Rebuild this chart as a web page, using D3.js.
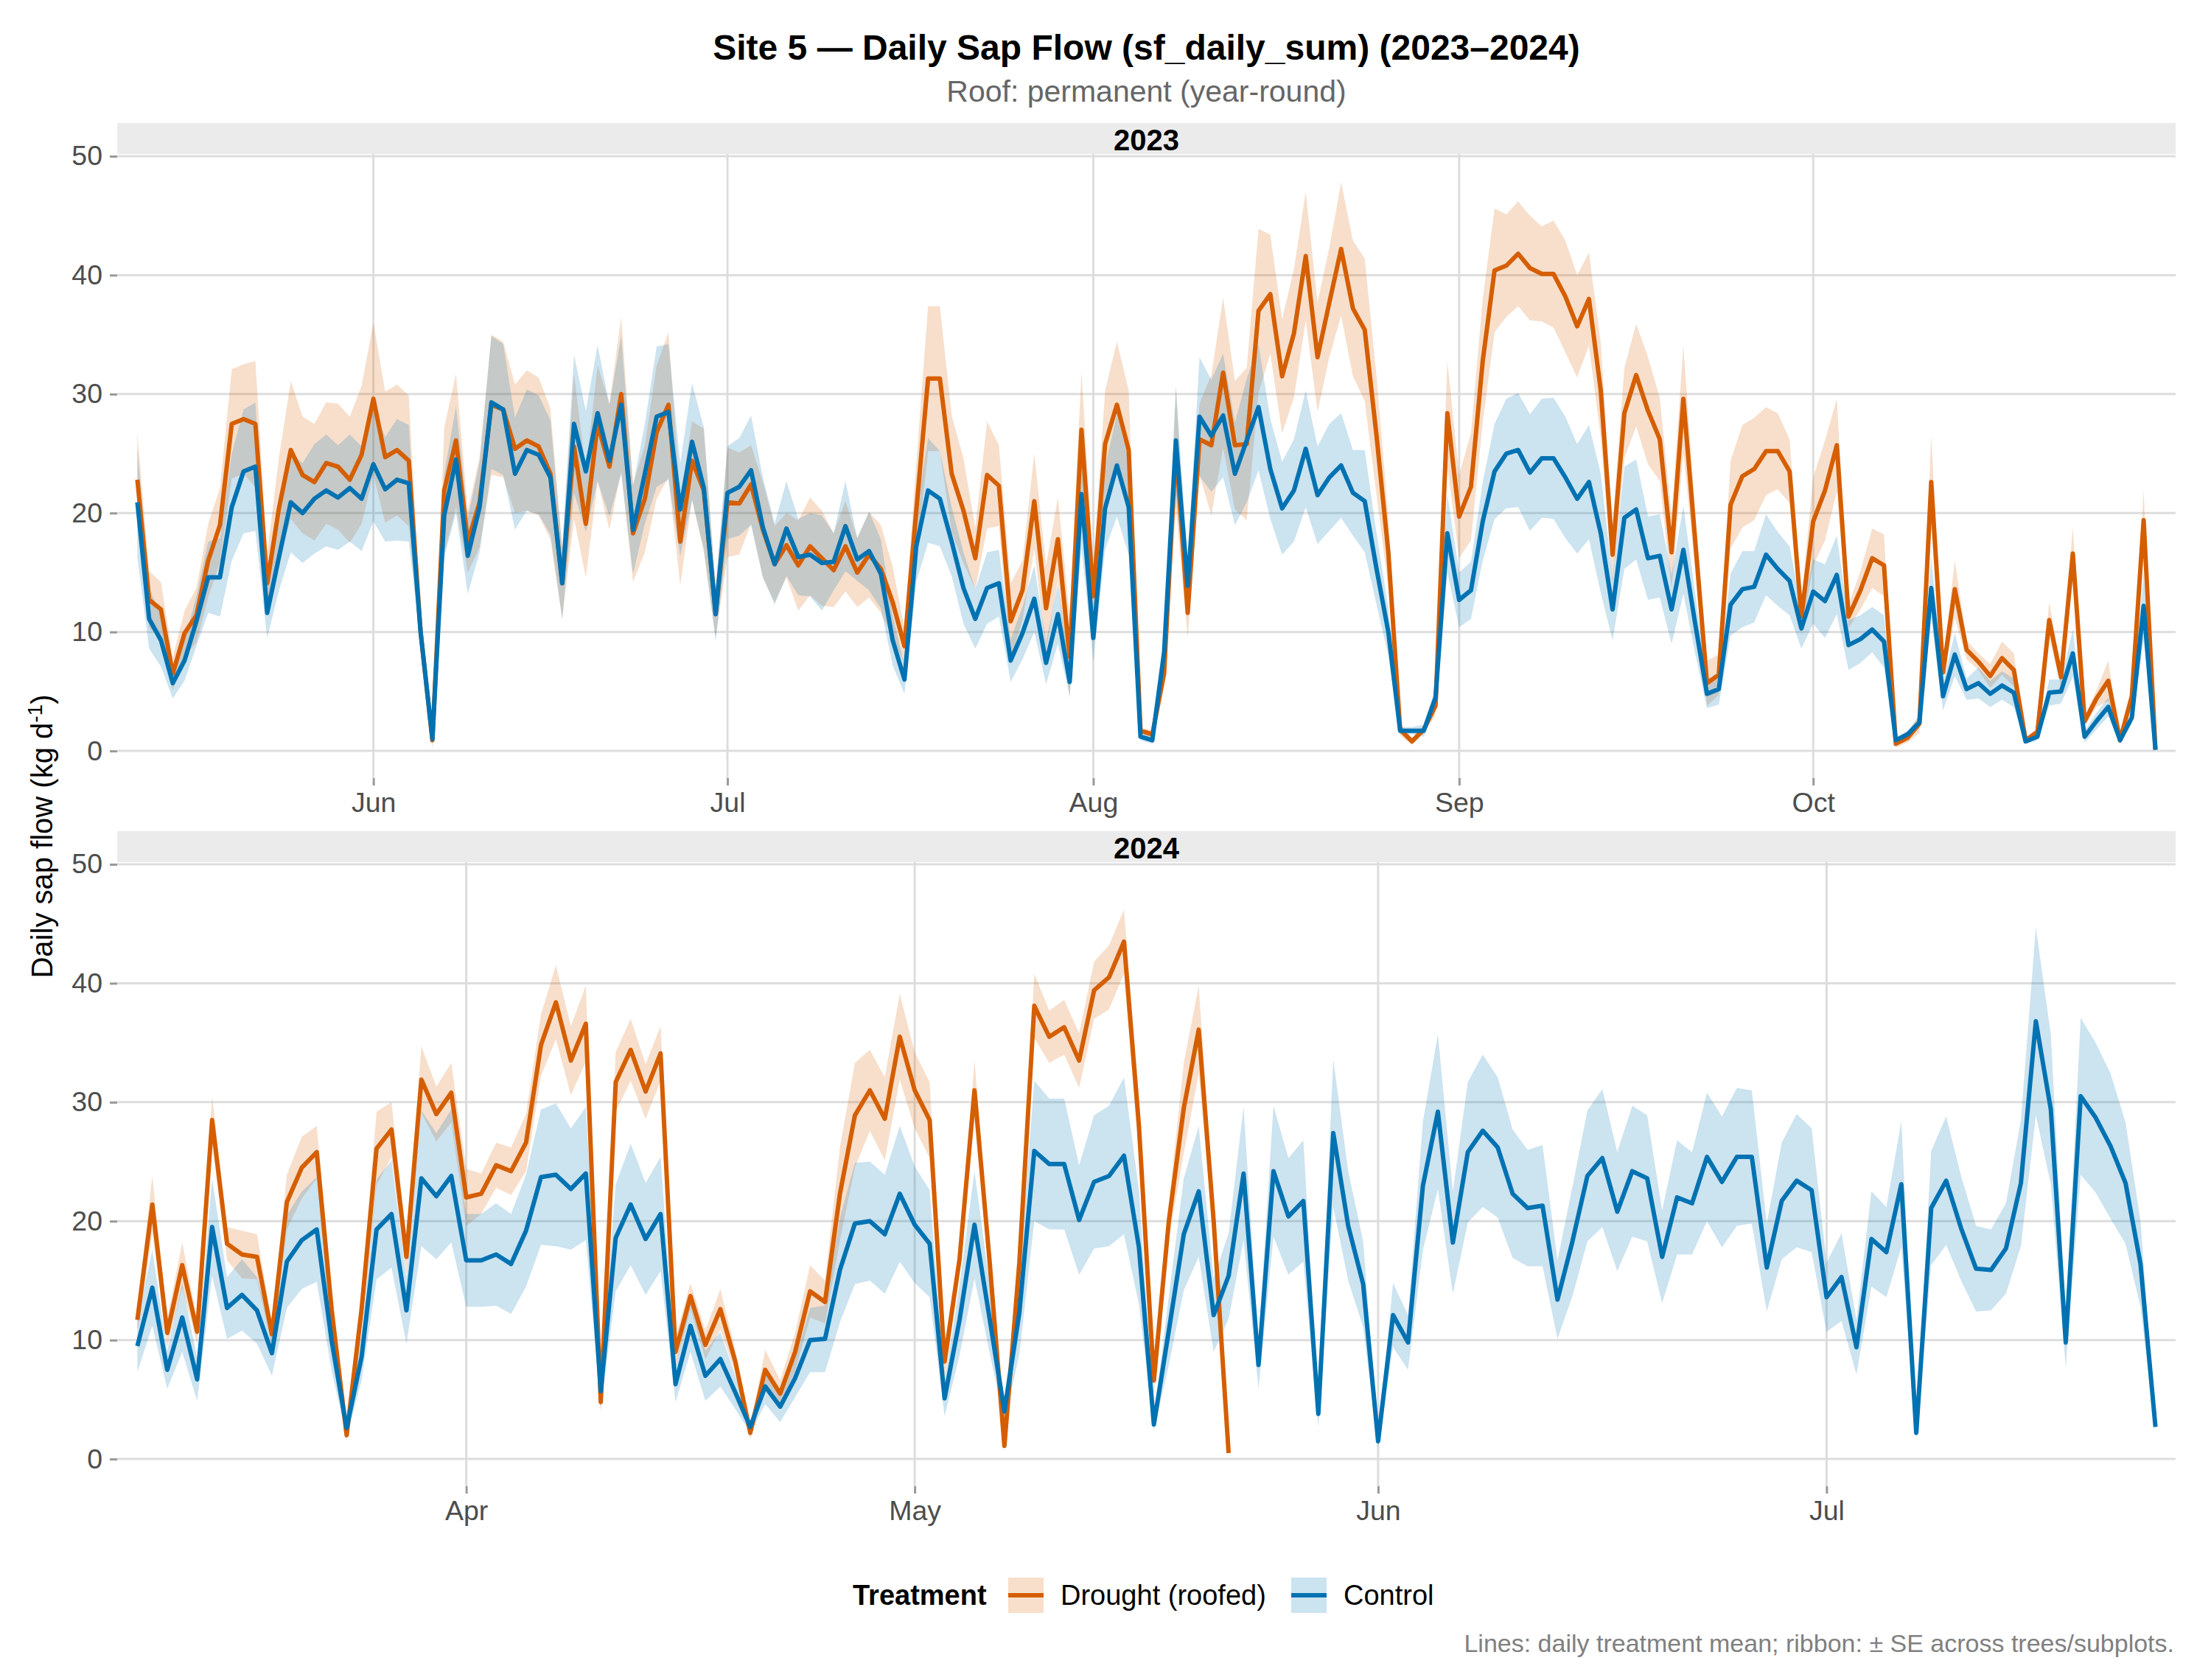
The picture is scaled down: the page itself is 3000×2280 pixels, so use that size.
<!DOCTYPE html>
<meta charset="utf-8">
<style>
    body { margin: 0; background: #fff; }
    svg { font-family: "Liberation Sans", Arial, Helvetica, sans-serif; }
</style>
<body>
<script src="https://d3js.org/d3.v7.min.js"></script>
<script>
// ---------- data (daily treatment mean and SE, kg d-1) ----------
let years = ["2023", "2024"];
let startDates = ["2023-05-12", "2024-03-10"];
let treatments = ["Drought (roofed)", "Control"];

let drought2023 = [
    22.8, 12.7, 11.9, 6.5, 9.9, 11.4, 16.0, 19.0, 27.5, 27.9,
    27.5, 14.1, 20.4, 25.3, 23.2, 22.6, 24.2, 23.9, 22.8, 24.9,
    29.6, 24.7, 25.3, 24.4, 10.0, 0.9, 21.9, 26.1, 17.6, 20.9,
    29.1, 28.7, 25.4, 26.1, 25.6, 23.3, 14.1, 25.6, 19.1, 27.5,
    23.9, 30.0, 18.3, 21.2, 26.8, 29.1, 17.6, 24.4, 21.9, 11.6,
    20.9, 20.8, 22.4, 18.6, 15.7, 17.3, 15.6, 17.2, 16.2, 15.2,
    17.2, 15.0, 16.5, 15.3, 12.5, 8.8, 20.2, 31.3, 31.3, 23.3,
    20.2, 16.2, 23.2, 22.3, 10.9, 13.5, 21.0, 12.0, 17.8, 7.9,
    27.0, 13.0, 25.8, 29.1, 25.3, 1.7, 1.4, 6.5, 25.5, 11.6,
    26.2, 25.7, 31.8, 25.7, 25.8, 37.0, 38.4, 31.5, 35.1, 41.6,
    33.1, 37.7, 42.2, 37.2, 35.4, 26.5, 16.7, 1.8, 0.8, 1.8,
    3.8, 28.4, 19.7, 22.2, 32.8, 40.4, 40.8, 41.8, 40.6, 40.1,
    40.1, 38.2, 35.7, 38.0, 30.3, 16.5, 28.4, 31.6, 28.6, 26.2,
    16.7, 29.6, 17.7, 5.7, 6.4, 20.7, 23.1, 23.7, 25.2, 25.2,
    23.5, 11.3, 19.3, 21.9, 25.7, 11.3, 13.5, 16.2, 15.6, 0.6,
    1.1, 2.3, 22.6, 6.6, 13.6, 8.5, 7.5, 6.3, 7.8, 6.8,
    0.9, 1.6, 11.0, 6.2, 16.6, 2.5, 4.4, 5.9, 0.9, 4.6,
    19.4, 0.1
];
let droughtSE2023 = [
    3.9, 2.4, 2.3, 1.4, 1.9, 2.3, 3.1, 3.1, 4.6, 4.6,
    5.3, 2.5, 4.3, 5.8, 4.9, 4.9, 5.1, 5.3, 5.3, 5.8,
    6.4, 5.5, 5.5, 5.5, 1.0, 0.7, 5.3, 5.6, 2.6, 3.8,
    5.9, 5.7, 5.4, 5.9, 5.8, 5.5, 3.0, 6.1, 4.5, 4.9,
    5.3, 6.5, 4.1, 4.5, 5.6, 6.1, 3.7, 3.3, 5.2, 2.0,
    4.6, 4.3, 3.3, 4.0, 3.2, 2.7, 3.8, 4.1, 4.0, 3.1,
    3.8, 2.9, 3.6, 3.7, 3.0, 1.5, 4.0, 6.1, 6.1, 4.9,
    4.4, 2.6, 4.5, 3.4, 3.2, 2.5, 4.0, 3.6, 3.5, 3.5,
    4.9, 2.5, 4.5, 5.3, 5.0, 0.3, 0.3, 1.0, 5.0, 2.1,
    3.0, 5.9, 6.3, 5.4, 6.4, 6.9, 5.0, 4.8, 5.4, 5.4,
    4.6, 4.6, 5.6, 5.7, 6.0, 5.0, 3.0, 0.5, 0.3, 0.3,
    0.8, 4.4, 3.5, 4.5, 5.2, 5.2, 4.3, 4.4, 4.4, 4.0,
    4.5, 4.7, 4.3, 3.9, 4.0, 2.5, 3.8, 4.3, 4.5, 3.5,
    3.1, 4.5, 2.5, 1.9, 1.7, 3.7, 4.3, 4.3, 3.7, 3.2,
    2.7, 1.5, 3.7, 4.2, 3.9, 1.0, 1.6, 2.5, 2.6, 0.3,
    0.4, 0.8, 3.9, 0.8, 2.4, 0.8, 0.7, 1.0, 1.4, 1.4,
    0.2, 0.3, 1.5, 0.8, 2.2, 0.4, 0.7, 1.7, 0.2, 0.5,
    2.5, 0.0
];
let control2023 = [
    20.9, 11.1, 9.3, 5.7, 7.6, 10.9, 14.6, 14.6, 20.5, 23.5,
    23.9, 11.6, 16.3, 20.9, 20.0, 21.2, 21.9, 21.3, 22.1, 21.2,
    24.1, 22.0, 22.8, 22.5, 10.0, 1.0, 19.8, 24.5, 16.4, 20.5,
    29.3, 28.7, 23.3, 25.3, 24.9, 23.0, 14.1, 27.5, 23.5, 28.4,
    24.4, 29.1, 18.6, 23.3, 28.1, 28.5, 20.3, 26.0, 22.1, 11.5,
    21.7, 22.2, 23.6, 18.8, 15.7, 18.7, 16.3, 16.5, 15.8, 15.9,
    18.9, 16.1, 16.8, 14.9, 9.3, 6.0, 17.2, 21.9, 21.2, 17.6,
    13.7, 11.1, 13.7, 14.1, 7.6, 9.9, 12.8, 7.4, 11.5, 5.8,
    21.6, 9.5, 20.4, 24.0, 20.5, 1.2, 0.9, 8.3, 26.1, 13.9,
    28.1, 26.5, 28.2, 23.3, 26.1, 28.9, 23.7, 20.4, 21.9, 25.4,
    21.5, 23.0, 24.0, 21.7, 21.0, 15.3, 10.0, 1.7, 1.7, 1.7,
    4.5, 18.3, 12.7, 13.5, 19.3, 23.5, 25.0, 25.3, 23.4, 24.6,
    24.6, 23.0, 21.2, 22.6, 18.3, 11.9, 19.6, 20.3, 16.2, 16.4,
    11.9, 16.9, 10.7, 4.8, 5.2, 12.3, 13.6, 13.8, 16.5, 15.3,
    14.3, 10.3, 13.4, 12.6, 14.8, 8.9, 9.4, 10.2, 9.2, 0.9,
    1.4, 2.4, 13.7, 4.6, 8.1, 5.2, 5.7, 4.8, 5.5, 4.9,
    0.8, 1.2, 4.9, 5.0, 8.2, 1.2, 2.5, 3.7, 0.9, 2.8,
    12.2, 0.1
];
let controlSE2023 = [
    4.6, 2.5, 2.2, 1.3, 1.7, 2.1, 3.0, 3.3, 4.5, 5.2,
    5.4, 2.1, 2.8, 4.2, 4.2, 4.6, 4.7, 4.4, 4.5, 4.4,
    4.8, 4.4, 5.1, 4.9, 1.0, 0.5, 3.5, 4.5, 3.2, 3.8,
    5.6, 5.5, 4.7, 5.1, 5.0, 4.8, 3.0, 5.8, 5.1, 5.7,
    4.7, 5.8, 3.7, 4.2, 5.9, 5.7, 3.9, 4.9, 5.1, 2.3,
    3.9, 4.1, 4.6, 4.2, 3.4, 4.0, 3.2, 3.5, 4.0, 2.4,
    3.8, 1.8, 3.3, 2.9, 2.1, 1.2, 3.0, 4.4, 4.0, 2.9,
    3.0, 2.5, 3.0, 2.8, 1.8, 2.2, 2.8, 1.8, 2.5, 1.2,
    4.5, 2.0, 3.5, 4.3, 4.0, 0.3, 0.3, 1.5, 4.6, 2.0,
    5.0, 4.7, 5.2, 4.3, 5.2, 5.3, 4.2, 3.9, 4.3, 4.9,
    4.1, 4.5, 4.4, 3.6, 4.3, 3.0, 2.0, 0.3, 0.3, 0.5,
    0.8, 3.3, 2.3, 2.4, 3.3, 4.0, 4.6, 4.8, 4.9, 5.0,
    5.1, 5.1, 4.6, 4.8, 5.0, 2.6, 4.3, 4.2, 3.5, 3.5,
    2.9, 3.7, 2.5, 1.2, 1.3, 2.6, 3.2, 3.0, 3.4, 3.1,
    2.9, 1.7, 2.7, 3.1, 3.3, 2.1, 2.0, 1.9, 2.2, 0.2,
    0.3, 0.5, 2.6, 1.2, 1.8, 0.9, 1.3, 1.1, 1.2, 1.2,
    0.2, 0.3, 1.1, 1.0, 2.0, 0.5, 0.7, 0.8, 0.3, 0.5,
    2.9, 0.0
];

let drought2024 = [
    11.7, 21.4, 10.6, 16.3, 10.7, 28.5, 18.1, 17.2, 17.0, 10.5,
    21.6, 24.5, 25.8, 12.5, 2.0, 12.6, 26.1, 27.7, 17.0, 31.9,
    29.0, 30.8, 22.0, 22.3, 24.7, 24.2, 26.6, 34.8, 38.4, 33.5,
    36.6, 4.8, 31.7, 34.4, 30.9, 34.1, 9.0, 13.7, 9.6, 12.6,
    8.2, 2.2, 7.5, 5.5, 9.0, 14.1, 13.2, 22.3, 28.9, 31.0,
    28.6, 35.5, 31.0, 28.5, 8.2, 16.8, 31.0, 16.8, 1.1, 16.5,
    38.1, 35.5, 36.3, 33.5, 39.4, 40.5, 43.5, 28.0, 6.6, 20.0,
    29.5, 36.1, 20.0, 0.5
];
let droughtSE2024 = [
    1.0, 2.4, 1.2, 1.9, 1.0, 2.0, 1.4, 2.0, 1.9, 1.0,
    2.3, 2.6, 2.2, 2.0, 0.5, 1.5, 3.1, 2.3, 1.5, 2.8,
    2.3, 2.5, 2.4, 1.7, 1.9, 2.0, 2.4, 2.6, 3.1, 2.9,
    3.2, 1.0, 2.5, 2.6, 2.3, 2.3, 1.2, 1.1, 1.2, 1.7,
    1.0, 0.5, 1.7, 1.1, 1.6, 2.2, 1.8, 3.9, 4.4, 3.4,
    3.5, 3.6, 3.2, 3.2, 1.5, 1.0, 2.5, 1.0, 0.5, 1.0,
    2.7, 2.2, 2.3, 2.3, 2.4, 2.7, 2.7, 2.5, 1.0, 1.5,
    3.8, 3.7, 1.5, 0.2
];
let control2024 = [
    9.5, 14.4, 7.5, 11.9, 6.7, 19.5, 12.7, 13.8, 12.5, 8.9,
    16.6, 18.4, 19.3, 9.9, 2.6, 8.6, 19.3, 20.6, 12.5, 23.6,
    22.1, 23.8, 16.7, 16.7, 17.2, 16.4, 19.2, 23.7, 23.9, 22.7,
    24.0, 5.7, 18.6, 21.4, 18.5, 20.6, 6.3, 11.2, 7.0, 8.4,
    5.6, 2.7, 6.1, 4.4, 6.8, 10.0, 10.1, 15.9, 19.8, 20.0,
    18.9, 22.3, 19.7, 18.1, 5.1, 11.7, 19.7, 11.9, 4.0, 12.3,
    25.9, 24.8, 24.8, 20.1, 23.3, 23.8, 25.5, 17.8, 2.9, 10.8,
    18.9, 22.5, 12.1, 15.4, 24.0, 7.9, 24.2, 20.4, 21.7, 3.8,
    27.4, 19.6, 14.7, 1.5, 12.1, 9.8, 23.0, 29.2, 18.2, 25.8,
    27.6, 26.2, 22.3, 21.1, 21.3, 13.4, 18.3, 23.8, 25.3, 20.8,
    24.2, 23.6, 17.0, 22.0, 21.5, 25.4, 23.3, 25.4, 25.4, 16.1,
    21.7, 23.4, 22.6, 13.6, 15.3, 9.4, 18.5, 17.4, 23.1, 2.2,
    21.1, 23.4, 19.4, 16.0, 15.9, 17.7, 23.2, 36.8, 29.4, 9.8,
    30.5, 28.7, 26.3, 23.2, 16.4, 2.7
];
let controlSE2024 = [
    2.2, 3.2, 1.6, 2.9, 1.8, 4.1, 2.6, 3.0, 2.8, 1.9,
    3.9, 4.1, 4.4, 2.5, 0.8, 2.0, 4.2, 4.5, 2.8, 5.7,
    5.3, 5.6, 3.9, 3.9, 4.3, 4.2, 4.7, 5.7, 6.0, 5.1,
    5.6, 1.5, 4.5, 5.1, 4.7, 4.8, 1.5, 2.2, 2.1, 2.3,
    1.4, 0.5, 1.5, 1.3, 1.6, 2.7, 2.8, 4.4, 5.1, 5.0,
    5.0, 5.7, 4.9, 4.5, 1.5, 3.0, 4.5, 2.9, 0.9, 3.5,
    5.9, 5.5, 5.5, 4.6, 5.6, 5.9, 6.6, 4.8, 0.5, 2.9,
    4.7, 5.5, 3.1, 3.6, 5.6, 2.0, 5.5, 4.9, 5.1, 1.1,
    6.2, 4.6, 3.6, 0.5, 2.7, 2.3, 5.4, 6.5, 4.3, 5.9,
    6.4, 5.9, 5.4, 4.9, 5.1, 3.3, 4.6, 5.5, 5.8, 5.0,
    5.5, 5.3, 3.9, 4.8, 4.3, 5.4, 5.5, 5.8, 5.6, 3.7,
    4.9, 5.6, 5.2, 2.9, 3.7, 2.3, 4.0, 3.8, 5.3, 0.5,
    4.8, 5.4, 4.4, 3.6, 3.4, 3.8, 5.3, 7.9, 6.3, 2.1,
    6.6, 6.3, 6.1, 5.1, 3.6, 0.3
];

let yTicks = [0, 10, 20, 30, 40, 50];

// ---------- layout ----------
let width = 3000, height = 2280;
let plotLeft = 159, plotRight = 2952;
let panelsLayout = [
    {stripTop: 167, top: 209, bottom: 1056},
    {stripTop: 1128, top: 1170, bottom: 2017}
];
let colors = {"Drought (roofed)": "#D55E00", "Control": "#0072B2"};
let axisTextColor = "#4D4D4D";
let gridColor = "#DDDDDD";
let tickColor = "#999999";

let svg = d3.select("body").append("svg")
    .attr("width", width)
    .attr("height", height);

svg.append("rect").attr("width", width).attr("height", height).attr("fill", "white");

function makeSeries(start, means, ses) {
    let t0 = new Date(start + "T00:00:00Z");
    return means.map(function(m, i) {
        return {date: d3.utcDay.offset(t0, i), mean: m, se: ses[i]};
    });
}

let panels = [
    {year: years[0], series: [
        {name: treatments[0], values: makeSeries(startDates[0], drought2023, droughtSE2023)},
        {name: treatments[1], values: makeSeries(startDates[0], control2023, controlSE2023)}
    ]},
    {year: years[1], series: [
        {name: treatments[0], values: makeSeries(startDates[1], drought2024, droughtSE2024)},
        {name: treatments[1], values: makeSeries(startDates[1], control2024, controlSE2024)}
    ]}
];

// shared y scale (ggplot-like 5% expansion)
let allLo = [], allHi = [];
panels.forEach(function(p) {
    p.series.forEach(function(s) {
        s.values.forEach(function(d) {
            allLo.push(d.mean - d.se);
            allHi.push(d.mean + d.se);
        });
    });
});
let yMin = d3.min(allLo), yMax = d3.max(allHi);
let yPad = (yMax - yMin) * 0.05;

// ---------- titles ----------
let centerX = (plotLeft + plotRight) / 2;
svg.append("text")
    .attr("x", centerX).attr("y", 81)
    .attr("text-anchor", "middle")
    .attr("font-size", 48).attr("font-weight", "bold").attr("fill", "#000")
    .text("Site 5 \u2014 Daily Sap Flow (sf_daily_sum) (2023\u20132024)");

svg.append("text")
    .attr("x", centerX).attr("y", 138)
    .attr("text-anchor", "middle")
    .attr("font-size", 41).attr("fill", "#666")
    .text("Roof: permanent (year-round)");

// ---------- panels ----------
panels.forEach(function(p, pi) {
    let L = panelsLayout[pi];
    let g = svg.append("g").attr("id", "panel_" + p.year);

    let dates = p.series[1].values.map(d => d.date);
    let ext = d3.extent(dates);
    let span = ext[1] - ext[0];
    let x = d3.scaleUtc()
        .domain([new Date(+ext[0] - span * 0.01), new Date(+ext[1] + span * 0.01)])
        .range([plotLeft, plotRight]);
    let y = d3.scaleLinear()
        .domain([yMin - yPad, yMax + yPad])
        .range([L.bottom, L.top]);

    // strip
    g.append("rect")
        .attr("x", plotLeft).attr("y", L.stripTop)
        .attr("width", plotRight - plotLeft).attr("height", L.top - L.stripTop)
        .attr("fill", "#EBEBEB");
    g.append("text")
        .attr("x", centerX).attr("y", L.top - 5)
        .attr("text-anchor", "middle")
        .attr("font-size", 40).attr("font-weight", "bold").attr("fill", "#000")
        .text(p.year);

    // grid
    let monthTicks = x.ticks(d3.utcMonth.every(1));
    g.append("g").selectAll("line.h")
        .data(yTicks).join("line")
        .attr("x1", plotLeft).attr("x2", plotRight)
        .attr("y1", d => y(d)).attr("y2", d => y(d))
        .attr("stroke", gridColor).attr("stroke-width", 3);
    g.append("g").selectAll("line.v")
        .data(monthTicks).join("line")
        .attr("x1", d => x(d)).attr("x2", d => x(d))
        .attr("y1", L.top).attr("y2", L.bottom)
        .attr("stroke", gridColor).attr("stroke-width", 3);

    // ribbons
    let area = d3.area()
        .x(d => x(d.date))
        .y0(d => y(d.mean - d.se))
        .y1(d => y(d.mean + d.se));
    g.append("g").selectAll("path")
        .data(p.series).join("path")
        .attr("d", s => area(s.values))
        .attr("fill", s => colors[s.name])
        .attr("fill-opacity", 0.2);

    // lines
    let line = d3.line()
        .x(d => x(d.date))
        .y(d => y(d.mean));
    g.append("g").selectAll("path")
        .data(p.series).join("path")
        .attr("d", s => line(s.values))
        .attr("fill", "none")
        .attr("stroke", s => colors[s.name])
        .attr("stroke-width", 6)
        .attr("stroke-linejoin", "round");

    // axes
    let yAxis = g.append("g")
        .attr("transform", "translate(" + plotLeft + ",0)")
        .call(d3.axisLeft(y).tickValues(yTicks).tickSize(10).tickPadding(10));
    let xAxis = g.append("g")
        .attr("transform", "translate(0," + L.bottom + ")")
        .call(d3.axisBottom(x).ticks(d3.utcMonth.every(1))
            .tickFormat(d3.utcFormat("%b")).tickSize(10).tickPadding(9));
    [yAxis, xAxis].forEach(function(a) {
        a.select(".domain").remove();
        a.selectAll(".tick line").attr("stroke", tickColor).attr("stroke-width", 3);
        a.selectAll(".tick text")
            .attr("font-size", 37.5)
            .attr("font-family", "'Liberation Sans', Arial, sans-serif")
            .attr("fill", axisTextColor);
    });
});

// y axis title
let yTitle = svg.append("text")
    .attr("transform", "translate(71,1135) rotate(-90)")
    .attr("text-anchor", "middle")
    .attr("font-size", 40).attr("fill", "#000");
yTitle.append("tspan").text("Daily sap flow (kg d");
yTitle.append("tspan").attr("dy", -14).attr("font-size", 28).text("-1");
yTitle.append("tspan").attr("dy", 14).text(")");

// ---------- legend ----------
let legend = svg.append("g").attr("id", "legend");
legend.append("text")
    .attr("x", 1157).attr("y", 2178)
    .attr("font-size", 38).attr("font-weight", "bold").attr("fill", "#000")
    .text("Treatment");
let keyX = [1368, 1752];
treatments.forEach(function(t, i) {
    let kg = legend.append("g").attr("transform", "translate(" + keyX[i] + ",2141)");
    kg.append("rect").attr("width", 48).attr("height", 48)
        .attr("fill", colors[t]).attr("fill-opacity", 0.2);
    kg.append("line").attr("x1", 0).attr("x2", 48).attr("y1", 24).attr("y2", 24)
        .attr("stroke", colors[t]).attr("stroke-width", 6);
    kg.append("text").attr("x", 71).attr("y", 37)
        .attr("font-size", 38).attr("fill", "#000")
        .text(t);
});

// caption
svg.append("text")
    .attr("x", plotRight - 2).attr("y", 2242)
    .attr("text-anchor", "end")
    .attr("font-size", 34).attr("fill", "#808080")
    .text("Lines: daily treatment mean; ribbon: \u00B1 SE across trees/subplots.");
</script>
</body>
